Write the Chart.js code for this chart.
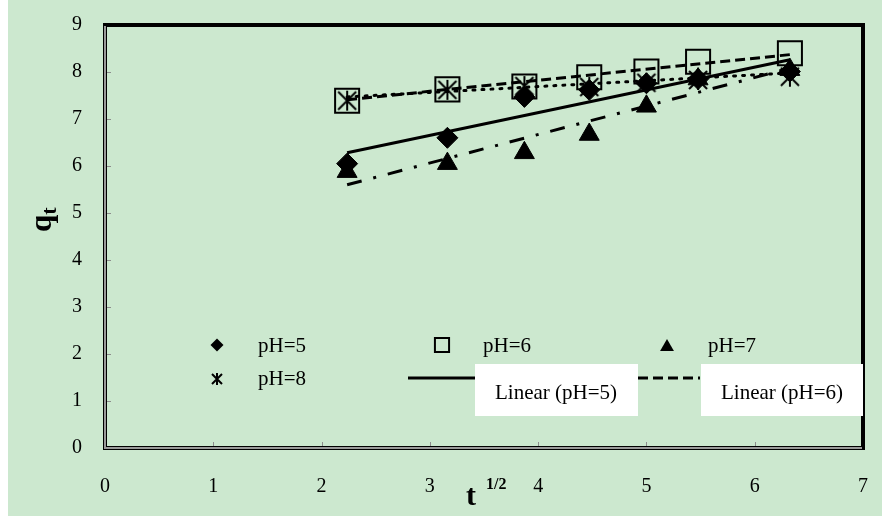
<!DOCTYPE html>
<html>
<head>
<meta charset="utf-8">
<script src="https://cdn.jsdelivr.net/npm/chart.js@4.4.0/dist/chart.umd.min.js"></script>
<style>
  html, body { margin: 0; padding: 0; background: #fff; }
  #caja { position: relative; width: 882px; height: 516px; }
</style>
</head>
<body>
<div id="caja"><canvas id="grafico"></canvas></div>
<script>
const ctx = document.getElementById('grafico').getContext('2d');

// datos: t^(1/2) y q_t para cada pH
const raizT = [2.236, 3.162, 3.873, 4.472, 5.0, 5.477, 6.325];
const qtPH5 = [6.05, 6.60, 7.47, 7.62, 7.76, 7.85, 8.01];
const qtPH6 = [7.39, 7.63, 7.69, 7.89, 8.01, 8.22, 8.40];
const qtPH7 = [5.88, 6.05, 6.28, 6.67, 7.27, 7.85, 8.05];
const qtPH8 = [7.39, 7.62, 7.70, 7.68, 7.77, 7.83, 7.90];

// lineas de tendencia (extremos)
const lineaX = [2.236, 6.325];
const lineaPH5 = [6.28, 8.26];
const lineaPH6 = [7.41, 8.37];
const lineaPH7 = [5.60, 8.08];
const lineaPH8 = [7.47, 7.98];

// etiquetas de los ejes
const ticksX = [0, 1, 2, 3, 4, 5, 6, 7];
const ticksY = [0, 1, 2, 3, 4, 5, 6, 7, 8, 9];

const verde = 'rgb(204,232,207)';
const fuente = "'Liberation Serif', 'Times New Roman', serif";

const puntos = (xs, ys) => xs.map((x, i) => ({ x: x, y: ys[i] }));

// marcador estrella tipo Excel (X con barra vertical)
function hacerEstrella(tam) {
    const c = document.createElement('canvas');
    c.width = tam; c.height = tam;
    const g = c.getContext('2d');
    g.strokeStyle = '#000';
    g.lineWidth = 2;
    g.beginPath();
    g.moveTo(2, 2); g.lineTo(tam - 2, tam - 2);
    g.moveTo(tam - 2, 2); g.lineTo(2, tam - 2);
    g.moveTo(tam / 2, 1); g.lineTo(tam / 2, tam - 1);
    g.stroke();
    return c;
}
const estrella = hacerEstrella(22);
const estrellaChica = hacerEstrella(14);

const data = {
    datasets: [
        { type: 'line', label: 'Linear (pH=5)', data: puntos(lineaX, lineaPH5), borderColor: '#000', borderWidth: 3, pointRadius: 0, order: 0 },
        { type: 'line', label: 'Linear (pH=6)', data: puntos(lineaX, lineaPH6), borderColor: '#000', borderWidth: 3, borderDash: [10, 5], pointRadius: 0, order: 0 },
        { type: 'line', label: 'Linear (pH=7)', data: puntos(lineaX, lineaPH7), borderColor: '#000', borderWidth: 3, borderDash: [15, 12, 3, 12], pointRadius: 0, order: 0 },
        { type: 'line', label: 'Linear (pH=8)', data: puntos(lineaX, lineaPH8), borderColor: '#000', borderWidth: 3, borderDash: [2, 7], borderCapStyle: 'round', pointRadius: 0, order: 0 },
        { label: 'pH=8', data: puntos(raizT, qtPH8), pointStyle: estrella, radius: 11, order: 1 },
        { label: 'pH=7', data: puntos(raizT, qtPH7), pointStyle: 'triangle', radius: 11.5, backgroundColor: '#000', borderColor: '#000', borderWidth: 1, order: 2 },
        { label: 'pH=6', data: puntos(raizT, qtPH6), pointStyle: 'rect', radius: 17, backgroundColor: 'rgba(0,0,0,0)', borderColor: '#000', borderWidth: 2, order: 3 },
        { label: 'pH=5', data: puntos(raizT, qtPH5), pointStyle: 'rectRot', radius: 10.5, backgroundColor: '#000', borderColor: '#000', borderWidth: 1, order: 4 }
    ]
};

const fondo = {
    id: 'fondo',
    beforeDraw(chart) {
        const c = chart.ctx;
        c.save();
        c.fillStyle = '#fff';
        c.fillRect(0, 0, chart.width, chart.height);
        c.fillStyle = verde;
        c.fillRect(8, 0, chart.width - 8, chart.height);
        c.restore();
    }
};

const marco = {
    id: 'marco',
    afterDraw(chart) {
        const c = chart.ctx;
        const a = chart.chartArea;
        const sx = chart.scales.x, sy = chart.scales.y;
        c.save();
        // marcas de los ejes (hacia adentro)
        c.strokeStyle = '#8c8c8c';
        c.lineWidth = 1;
        c.beginPath();
        ticksX.forEach(v => { const px = Math.round(sx.getPixelForValue(v)) + 0.5; c.moveTo(px, a.bottom); c.lineTo(px, a.bottom - 6); });
        ticksY.forEach(v => { const py = Math.round(sy.getPixelForValue(v)) + 0.5; c.moveTo(a.left, py); c.lineTo(a.left + 6, py); });
        c.stroke();
        // borde del area
        c.lineCap = 'square';
        c.strokeStyle = '#000';
        c.lineWidth = 4;
        c.beginPath();
        c.moveTo(a.left, a.bottom); c.lineTo(a.left, a.top); c.lineTo(a.right, a.top); c.lineTo(a.right, a.bottom); c.lineTo(a.left, a.bottom);
        c.stroke();
        c.strokeStyle = '#9a9a9a';
        c.lineWidth = 2;
        c.beginPath();
        c.moveTo(a.left, a.top + 2); c.lineTo(a.left, a.bottom); c.lineTo(a.right - 2, a.bottom);
        c.stroke();

        // leyenda
        const H = Chart.helpers;
        c.fillStyle = '#000';
        c.strokeStyle = '#000';
        H.drawPoint(c, { pointStyle: 'rectRot', radius: 6.5, rotation: 0, borderWidth: 0 }, 217, 345);
        H.drawPoint(c, { pointStyle: 'triangle', radius: 8, rotation: 0, borderWidth: 0 }, 667, 347);
        c.lineWidth = 2;
        c.fillStyle = 'rgba(0,0,0,0)';
        H.drawPoint(c, { pointStyle: 'rect', radius: 10, rotation: 0, borderWidth: 2 }, 442, 345);
        c.drawImage(estrellaChica, 210, 372);
        c.lineWidth = 3;
        c.lineCap = 'butt';
        c.beginPath(); c.moveTo(408, 378); c.lineTo(477, 378); c.stroke();
        c.setLineDash([10, 5]);
        c.beginPath(); c.moveTo(638, 378); c.lineTo(700, 378); c.stroke();
        c.setLineDash([]);
        c.fillStyle = '#fff';
        c.fillRect(475, 364, 163, 52);
        c.fillRect(701, 364, 162, 52);
        c.fillStyle = '#000';
        c.font = '21px ' + fuente;
        c.textBaseline = 'middle';
        c.textAlign = 'left';
        c.fillText('pH=5', 258, 346);
        c.fillText('pH=6', 483, 346);
        c.fillText('pH=7', 708, 346);
        c.fillText('pH=8', 258, 379);
        c.fillText('Linear (pH=5)', 495, 393);
        c.fillText('Linear (pH=6)', 721, 393);

        // titulo eje y: q_t
        c.textBaseline = 'alphabetic';
        c.save();
        c.translate(51, 232);
        c.rotate(-Math.PI / 2);
        c.font = 'bold 31px ' + fuente;
        c.fillText('q', 0, 0);
        const wq = c.measureText('q').width;
        c.font = 'bold 22px ' + fuente;
        c.fillText('t', wq, 5);
        c.restore();

        // titulo eje x: t^(1/2)
        c.font = 'bold 30px ' + fuente;
        c.fillText('t', 466, 505);
        c.font = 'bold 16px ' + fuente;
        c.fillText('1/2', 486, 489);
        c.restore();
    }
};

const config = {
    type: 'scatter',
    data: data,
    options: {
        responsive: true,
        maintainAspectRatio: false,
        animation: false,
        layout: { padding: { top: 25, right: 14, left: 0, bottom: 0 } },
        plugins: { legend: { display: false }, tooltip: { enabled: false } },
        scales: {
            x: {
                type: 'linear', min: 0, max: 7,
                afterBuildTicks: s => { s.ticks = ticksX.map(v => ({ value: v })); },
                afterFit: s => { s.height = 68; s.paddingLeft = 0; s.paddingRight = 0; },
                grid: { display: false, drawTicks: false },
                border: { display: false },
                ticks: { color: '#000', padding: 27, maxRotation: 0, font: { family: fuente, size: 20 } }
            },
            y: {
                type: 'linear', min: 0, max: 9,
                afterBuildTicks: s => { s.ticks = ticksY.map(v => ({ value: v })); },
                afterFit: s => { s.width = 105; s.paddingTop = 0; s.paddingBottom = 0; },
                grid: { display: false, drawTicks: false },
                border: { display: false },
                ticks: { color: '#000', padding: 23, font: { family: fuente, size: 20 } }
            }
        }
    },
    plugins: [fondo, marco]
};

const miGrafico = new Chart(ctx, config);
</script>
</body>
</html>
